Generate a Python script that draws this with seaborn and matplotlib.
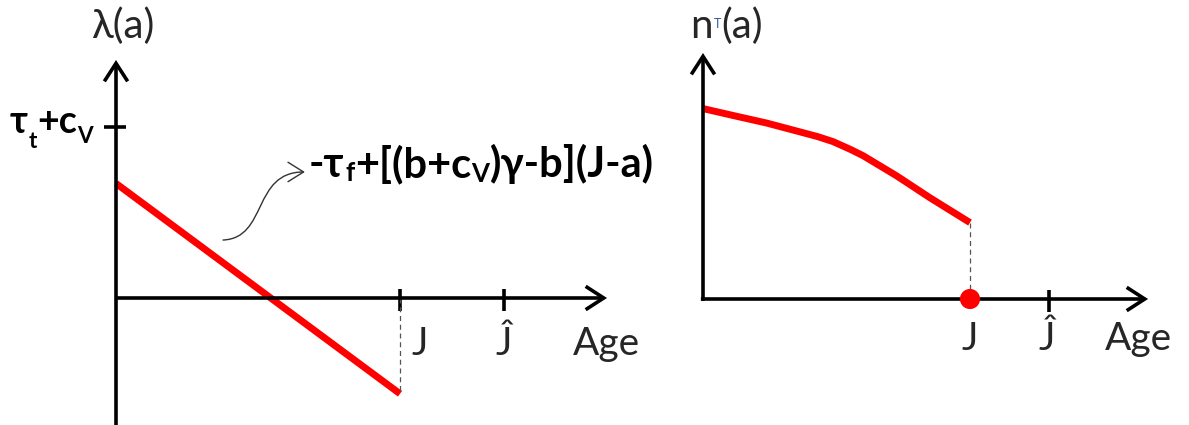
import matplotlib
matplotlib.use("Agg")
import matplotlib.pyplot as plt
from matplotlib.patches import FancyArrowPatch
from matplotlib.path import Path
import seaborn as sns

# ---- data -------------------------------------------------------------
# shadow value lambda(a): linear in age, from -tau_f + k*J down to -tau_f at J
lambda_age = [0.0, 1.0]
lambda_val = [0.67, -0.56]
lambda_ref = 1.0                      # level marked tau_t + c_V

# stock of trees n^T(a), concave and decreasing up to J
n_age = [0.0, 0.112, 0.239, 0.363, 0.430, 0.487, 0.551, 0.600, 0.725, 0.850, 1.0]
n_val = [0.997, 0.961, 0.921, 0.875, 0.850, 0.824, 0.784, 0.750, 0.645, 0.530, 0.400]

J = 1.0
J_hat_left = 1.366
J_hat_right = 1.296
tick_labels = ["J", "Ĵ"]

# ---- style ------------------------------------------------------------
sns.set_theme(style="white")
plt.rcParams["font.family"] = ["Lato", "DejaVu Sans"]

W, H = 1189, 425
fig = plt.figure(figsize=(W / 100, H / 100), dpi=100)
axL = fig.add_axes([0.0, 0.0, 0.57, 1.0])
axR = fig.add_axes([0.57, 0.0, 0.43, 1.0])


def fit_axes(ax, origin, scale):
    """Set limits so that data (0, 0) lands on pixel `origin` (x, y from top)."""
    l, b, w, h = ax.get_position().bounds
    ox, oy = origin
    sx, sy = scale
    x0, x1 = l * W, (l + w) * W
    ytop, ybot = (1 - (b + h)) * H, (1 - b) * H
    ax.set_xlim((x0 - ox) / sx, (x1 - ox) / sx)
    ax.set_ylim((oy - ybot) / sy, (oy - ytop) / sy)
    ax.axis("off")


fit_axes(axL, (116, 298), (284, 171))
fit_axes(axR, (703, 299), (267, 191))

AX_LW = 2.6
RED = "#ff0000"


def axis_arrow(ax, start, end):
    ax.annotate("", xy=end, xytext=start, annotation_clip=False,
                arrowprops=dict(arrowstyle="->,head_length=0.65,head_width=0.42",
                                lw=AX_LW, color="black", mutation_scale=20,
                                shrinkA=0, shrinkB=0, capstyle="butt",
                                joinstyle="miter"))


def rich_text(ax, x, y, pieces, size, weight="normal", color="black"):
    """Place text pieces one after another; each piece is (text, rise_pt, scale)."""
    prev = None
    for s, rise, scale in pieces:
        kw = dict(fontsize=size * scale, fontweight=weight, va="baseline",
                  ha="left", color=color)
        if prev is None:
            t = ax.text(x, y, s, **kw)
        else:
            t = ax.annotate(s, xy=(1, y), xycoords=(prev, "data"),
                            xytext=(0.3, rise), textcoords="offset points",
                            annotation_clip=False, **kw)
        prev = t
    return prev


FS = 28

# ---- left panel: lambda(a) -------------------------------------------
axis_arrow(axL, (0, -0.78), (0, 1.392))
axis_arrow(axL, (0, 0), (1.729, 0))
axL.hlines([lambda_ref], -0.042, 0.035, color="black", lw=AX_LW)
axL.vlines([J, J_hat_left], -0.076, 0.053, color="black", lw=AX_LW)

sns.lineplot(x=lambda_age, y=lambda_val, ax=axL, color=RED, linewidth=5,
             estimator=None, sort=False, solid_capstyle="butt")
axL.plot([J, J], [0, lambda_val[-1]], color="#555555", lw=0.9,
         dashes=(4, 3))

axL.text(-0.088, 1.52, "λ(a)", fontsize=29, ha="left", va="baseline")
rich_text(axL, -0.373, 0.965,
          [("τ", 0, 1.0), ("t", -11, 0.6), ("+c", 0, 1.0), ("V", -7, 0.6)],
          27, weight="bold")
rich_text(axL, 0.68, 0.705,
          [("-τ", 0, 1.0), ("f", -2.5, 0.62), ("+[(b+c", 0, 1.0),
           ("V", -3, 0.62), (")γ-b](J-a)", 0, 1.0)],
          30, weight="bold")

axL.text(1.07, -0.333, tick_labels[0], fontsize=FS, ha="center", va="baseline")
axL.text(J_hat_left, -0.333, tick_labels[1], fontsize=FS, ha="center",
         va="baseline")
axL.text(1.609, -0.333, "Age", fontsize=FS, ha="left", va="baseline")

# curved pointer from the line to its formula
p0, p1, p2, p3 = (0.377, 0.339), (0.535, 0.351), (0.479, 0.737), (0.665, 0.737)
pointer = FancyArrowPatch(path=Path([p0, p1, p2, p3],
                                    [Path.MOVETO, Path.CURVE4, Path.CURVE4,
                                     Path.CURVE4]),
                          arrowstyle="->,head_length=0.8,head_width=0.5",
                          mutation_scale=14, lw=1.0, color="#333333",
                          transform=axL.transData)
axL.add_patch(pointer)

# ---- right panel: n^T(a) ---------------------------------------------
axis_arrow(axR, (0, -0.01), (0, 1.288))
axis_arrow(axR, (-0.008, 0), (1.667, 0))
axR.vlines([J_hat_right], -0.068, 0.047, color="black", lw=AX_LW)

sns.lineplot(x=n_age, y=n_val, ax=axR, color=RED, linewidth=5,
             estimator=None, solid_capstyle="butt",
             solid_joinstyle="round")
axR.plot([J, J], [n_val[-1], 0], color="#555555", lw=0.9, dashes=(4, 3))
sns.scatterplot(x=[J], y=[0], ax=axR, color=RED, s=210, edgecolor="none",
                zorder=5)

n_lab = axR.text(-0.049, 1.366, "n", fontsize=29, ha="left", va="baseline")
t_lab = axR.annotate("T", xy=(1, 1.366), xycoords=(n_lab, "data"),
                     xytext=(0.8, 7), textcoords="offset points",
                     fontsize=9, va="baseline", ha="left", color="#2f5f9e",
                     annotation_clip=False)
axR.annotate("(a)", xy=(1, 1.366), xycoords=(t_lab, "data"),
             xytext=(0.5, 0), textcoords="offset points", fontsize=29,
             va="baseline", ha="left", annotation_clip=False)

axR.text(J, -0.267, tick_labels[0], fontsize=FS, ha="center", va="baseline")
axR.text(J_hat_right - 0.008, -0.267, tick_labels[1], fontsize=FS,
         ha="center", va="baseline")
axR.text(1.506, -0.267, "Age", fontsize=FS, ha="left", va="baseline")

fig.savefig("out.png", dpi=100)
